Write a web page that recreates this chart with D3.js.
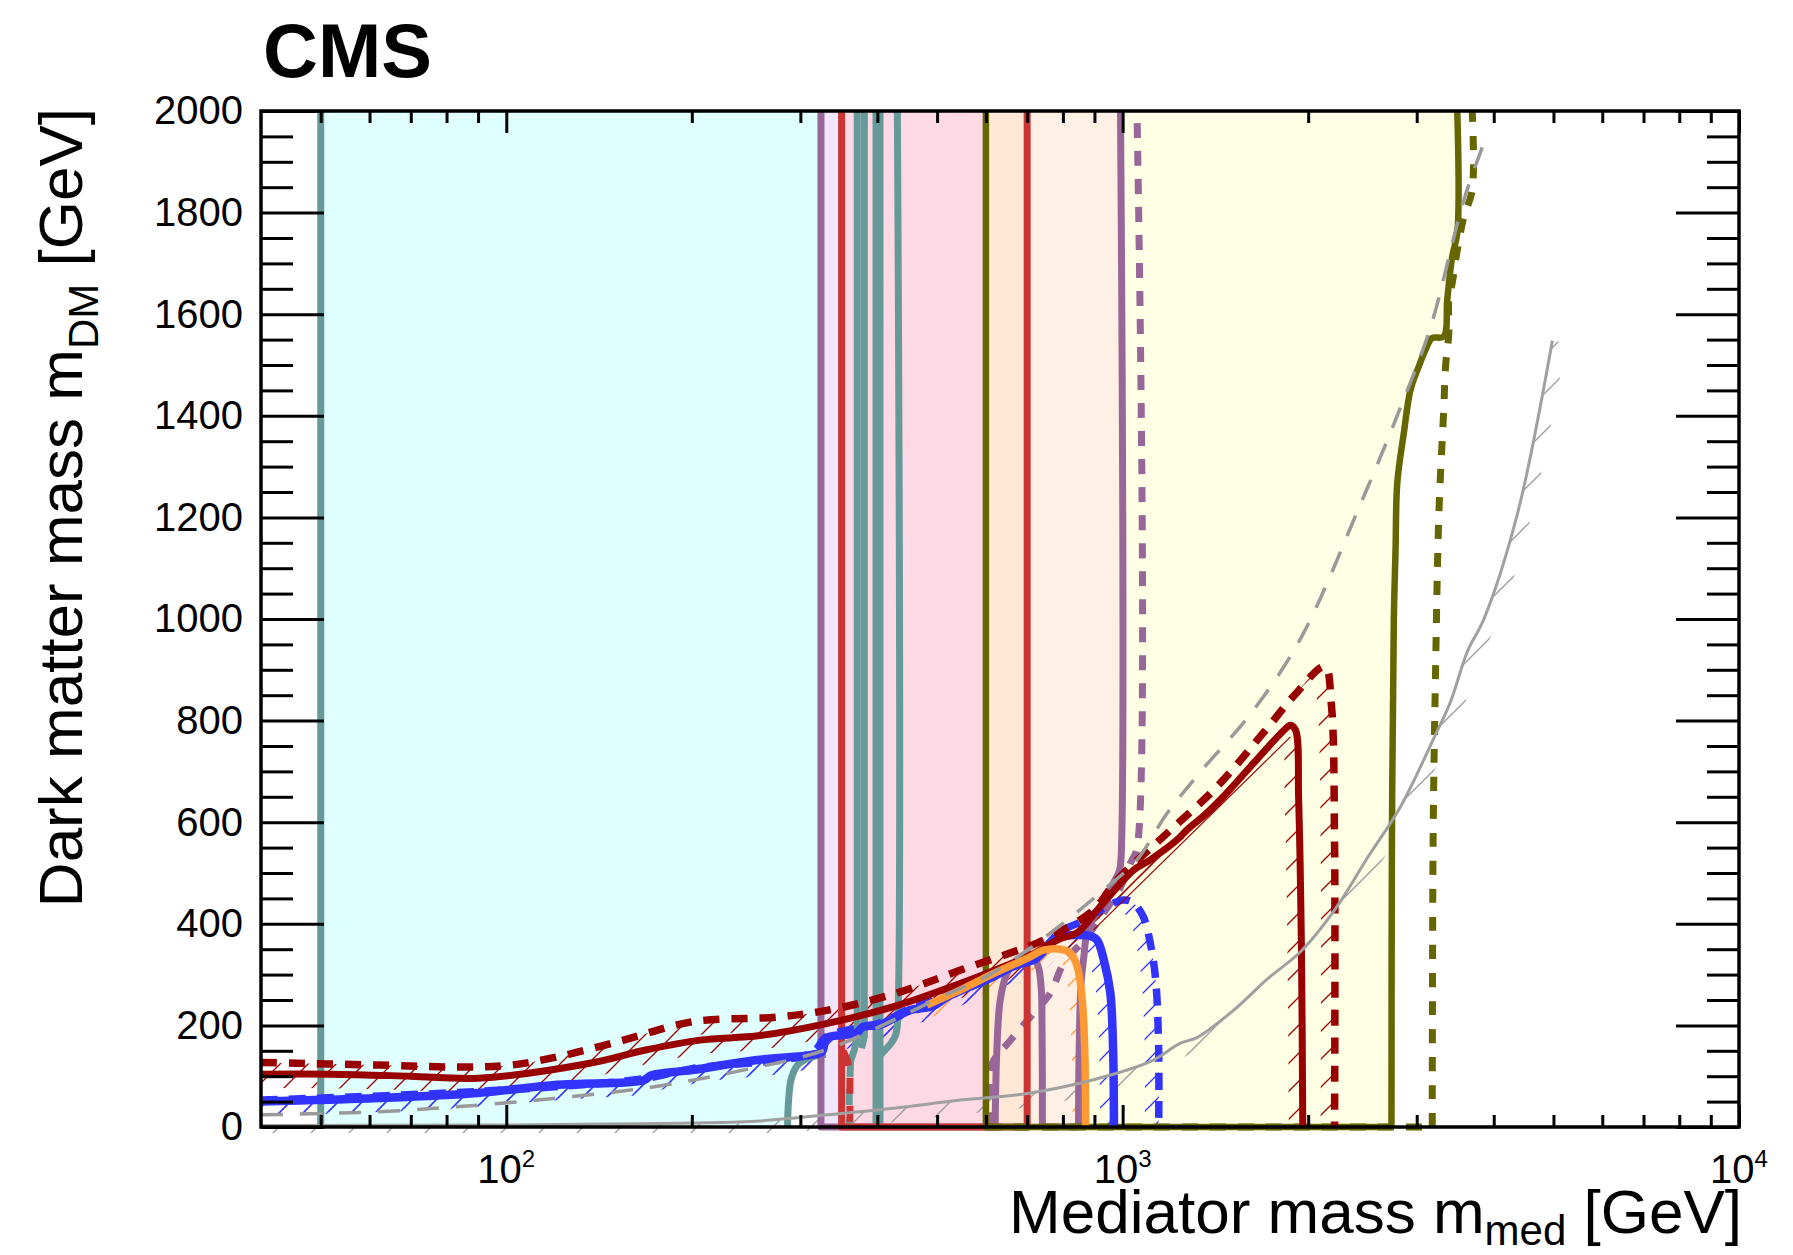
<!DOCTYPE html>
<html lang="en">
<head>
<meta charset="UTF-8">
<title>CMS dark matter summary</title>
<script src="https://d3js.org/d3.v7.min.js"></script>
<style>
  body { margin: 0; background: #fff; }
  text { font-family: "Liberation Sans", Arial, Helvetica, sans-serif; fill: #000; }
</style>
</head>
<body>
<svg id="chart" width="1793" height="1255"></svg>
<script>
// all values in GeV: [mediator mass, dark matter mass]
const yMajor = [0, 200, 400, 600, 800, 1000, 1200, 1400, 1600, 1800, 2000];
const xLabelled = [100, 1000, 10000];
const xExponents = ["2", "3", "4"];
const xMinor = [50, 60, 70, 80, 90, 200, 300, 400, 500, 600, 700, 800, 900,
                2000, 3000, 4000, 5000, 6000, 7000, 8000, 9000];

// shaded vertical bands
const tealNotch = [[286, 0], [287, 50], [290, 95], [297, 122], [307, 134], [318, 140], [330, 143]];
const lavenderBand = [324, 350];
const pinkBand = [350, 600];
const peachBand = [600, 700];

// teal
const teal50 = [[50, 0], [50, 2000]];
const tealA = [[371, 2000], [371, 178], [367, 152], [362, 130]];
const tealB = [[381, 2000], [381, 178], [377, 155]];
const tealC = [[398, 0], [398, 2000]];
const tealD = [[404, 0], [404, 2000]];
const tealE = [[431, 2000], [431, 200], [428, 180], [421, 165], [412, 152], [405, 143]];
const tealExp = [[362, 130], [360, 60], [360, 0]];

// purple
const purpleLeft = [[324, 2000], [324, 0], [621, 0]];
const purpleArch = [[621, 0], [625, 150], [633, 250], [649, 302], [674, 329],
                    [700, 335], [726, 322], [737, 280], [740, 200], [741, 0]];
const purpleBottom = [[741, 0], [848, 0]];
const purpleObsRight = [[848, 0], [850, 150], [856, 280], [866, 340], [875, 382], [895, 410],
                        [920, 434], [966, 480], [985, 500], [992, 515], [992, 2000]];
const purpleExp = [[613, 0], [613, 122], [657, 170], [717, 224], [764, 264], [802, 322], [873, 373],
                   [930, 420], [990, 470], [1030, 520], [1055, 549], [1055, 2000]];

// red
const redObs = [[350, 2000], [350, 0], [700, 0], [700, 2000]];
const redExp = [[352, 150], [358, 130], [361, 100], [361, 0]];

// olive
const oliveEdge = [[600, 2000], [600, 0], [2730, 0]];
const oliveObs = [[2730, 0], [2735, 574], [2754, 996], [2772, 1136], [2790, 1268], [2859, 1366],
                  [2931, 1451], [3023, 1497], [3100, 1530], [3179, 1553], [3319, 1556], [3362, 1628],
                  [3425, 1713], [3491, 1760], [3491, 2000]];
const oliveExpEdge = [[600, 0], [3179, 0]];
const oliveExp = [[3179, 0], [3190, 574], [3218, 890], [3259, 1207], [3320, 1417], [3341, 1497],
                  [3382, 1562], [3382, 1628], [3425, 1661], [3491, 1726], [3578, 1792], [3691, 1844],
                  [3691, 2000]];

// dark red
const darkRedObs = [[40, 104], [52, 104], [70, 100], [90, 96], [136, 125], [169, 152], [206, 171],
                    [258, 180], [332, 204], [425, 237], [546, 283], [600, 302], [700, 335], [793, 371],
                    [843, 382], [920, 434], [1042, 506], [1109, 526], [1225, 565], [1272, 585],
                    [1405, 630], [1611, 709], [1827, 781], [1872, 791], [1908, 781], [1930, 644],
                    [1950, 355], [1960, 0]];
const darkRedBandEdge = [[897, 388], [1872, 768]];
const darkRedExp = [[40, 127], [62, 122], [87, 118], [102, 122], [121, 138], [155, 171], [200, 207],
                    [279, 217], [346, 234], [436, 266], [546, 309], [726, 362], [793, 385], [897, 427],
                    [979, 486], [1180, 578], [1423, 670], [1716, 785], [1900, 850], [2127, 906],
                    [2180, 834], [2207, 563], [2207, 0]];

// blue
const blueObs = [[40, 50], [62, 57], [90, 67], [121, 83], [167, 92], [172, 102], [200, 112], [255, 132],
                 [313, 142], [325, 148], [331, 175], [352, 181], [370, 185], [379, 197], [404, 201],
                 [425, 214], [452, 230], [492, 238], [519, 256], [617, 296], [664, 316], [726, 333],
                 [764, 362], [793, 375], [850, 378], [886, 376], [909, 368], [932, 329], [955, 264],
                 [965, 152], [968, 0]];
const blueExp = [[40, 53], [90, 70], [167, 95], [200, 115], [313, 146], [331, 178], [404, 205],
                 [452, 233], [519, 259], [617, 299], [726, 338], [793, 385], [856, 404], [920, 427],
                 [1003, 447], [1041, 441], [1081, 413], [1110, 359], [1131, 291], [1144, 156], [1144, 0]];

// orange
const orangeObs = [[481, 240], [546, 270], [617, 302], [700, 332], [744, 348], [793, 350], [823, 342],
                   [844, 316], [860, 250], [868, 152], [871, 0]];

// relic density lines
const relicDashed = [[40, 24], [62, 30], [90, 43], [121, 57], [169, 77], [236, 109], [330, 152],
                     [436, 217], [507, 256], [600, 296], [700, 348], [812, 407], [932, 467],
                     [1055, 526], [1180, 617], [1337, 699], [1617, 815], [1947, 963], [2433, 1227],
                     [2825, 1417], [3160, 1575], [3578, 1825], [3900, 1953]];
const relicSolid = [[40, 3], [100, 4], [150, 6], [200, 8], [258, 12], [332, 24], [425, 37], [546, 53],
                    [700, 66], [897, 93], [1110, 129], [1241, 165], [1320, 176], [1514, 230],
                    [1716, 291], [1947, 346], [2207, 427], [2493, 529], [2825, 631], [3200, 766],
                    [3404, 837], [3625, 936], [3856, 1000], [4370, 1207], [4980, 1548]];

const svg = d3.select("#chart");
const x = d3.scaleLog().domain([40, 10000]).range([261, 1739]);
const y = d3.scaleLinear().domain([0, 2000]).range([1127, 111]);
const [x0, x1] = x.range();
const [yb, yt] = y.range();

const line = d3.line().x(d => x(d[0])).y(d => y(d[1])).curve(d3.curveCatmullRom.alpha(0.5));
const lineStraight = d3.line().x(d => x(d[0])).y(d => y(d[1]));
const pt = d => x(d[0]) + "," + y(d[1]);

const defs = svg.append("defs");
defs.append("clipPath").attr("id", "plotClip").append("rect")
    .attr("x", x0).attr("y", yt).attr("width", x1 - x0).attr("height", yb - yt + 6);

// hatch patterns
function hatchPattern(id, color, s) {
  const p = defs.append("pattern").attr("id", id)
      .attr("patternUnits", "userSpaceOnUse").attr("width", s).attr("height", s);
  p.append("path")
      .attr("d", `M0,${s}L${s},0M-2,2L2,-2M${s - 2},${s + 2}L${s + 2},${s - 2}`)
      .attr("stroke", color).attr("stroke-width", 1.3).attr("fill", "none");
}
hatchPattern("hRed", "#990000", 28);
hatchPattern("hBlue", "#3333ff", 24);
hatchPattern("hOrange", "#ff9933", 26);
hatchPattern("hGray", "#999999", 38);

// region path: straight prefix, smooth contour, straight suffix
function region(prefix, curve, suffix) {
  let d = prefix.length ? "M" + prefix.map(pt).join("L") + "L" + line(curve).slice(1) : line(curve);
  suffix.forEach(p => { d += "L" + pt(p); });
  return d + "Z";
}

const fills = svg.append("g").attr("clip-path", "url(#plotClip)");
fills.append("path").attr("d", region([[50, 2000], [50, 0]], tealNotch, [[330, 2000]])).attr("fill", "#e0ffff");
function band(b, color) {
  fills.append("rect").attr("x", x(b[0])).attr("y", yt)
      .attr("width", x(b[1]) - x(b[0])).attr("height", yb - yt).attr("fill", color);
}
band(lavenderBand, "#f0e6ff");
band(pinkBand, "#fdd9e5");
fills.append("path").attr("d", region([[600, 2000], [600, 0]], oliveObs, [])).attr("fill", "#ffffe5");
fills.append("path").attr("d", region([[700, 2000], [700, 0]], purpleObsRight, [])).attr("fill", "#fff0e6");
band(peachBand, "#ffe9d6");

// hatched bands on the excluded side
const hatches = svg.append("g").attr("clip-path", "url(#plotClip)");
let clipN = 0;
function hatch(curve, closing, pid, w) {
  const id = "hc" + (clipN++);
  defs.append("clipPath").attr("id", id).append("path").attr("d", region([], curve, closing));
  hatches.append("path").attr("d", line(curve)).attr("fill", "none")
      .attr("stroke", `url(#${pid})`).attr("stroke-width", 2 * w)
      .attr("stroke-linejoin", "round").attr("clip-path", `url(#${id})`);
}
hatch(relicSolid, [[20000, 1548], [20000, -50], [40, -50]], "hGray", 14);
hatch(blueObs, [[40, 0]], "hBlue", 14);
hatch(blueExp, [[40, 0]], "hBlue", 14);
hatch(orangeObs, [[481, 0]], "hOrange", 13);
hatch(darkRedObs, [[40, 0]], "hRed", 14);
hatch(darkRedExp, [[40, 0]], "hRed", 14);

// contour lines
const lines = svg.append("g").attr("clip-path", "url(#plotClip)");
function draw(pts, color, width, dash, straight) {
  lines.append("path").attr("d", (straight ? lineStraight : line)(pts)).attr("fill", "none")
      .attr("stroke", color).attr("stroke-width", width)
      .attr("stroke-dasharray", dash || null).attr("stroke-linejoin", "round");
}
const teal = "#669999", purple = "#996699", red = "#cc3333", olive = "#666600";
[teal50, tealA, tealB, tealC, tealD].forEach(l => draw(l, teal, 7, null, true));
draw(tealE, teal, 7);
draw(tealNotch, teal, 7);
draw(tealExp, teal, 7, "16 12", true);
draw(purpleLeft, purple, 7, null, true);
draw(purpleArch, purple, 7);
draw(purpleBottom, purple, 7, null, true);
draw(purpleObsRight, purple, 7);
draw(purpleExp, purple, 7, "15 13");
draw(redObs, red, 7, null, true);
draw(redExp, red, 7, "16 12", true);
draw(oliveExpEdge, olive, 7, "16 12", true);
draw(oliveExp, olive, 7, "14 14");
draw(oliveEdge, olive, 6.5, null, true);
draw(oliveObs, olive, 6.5);
draw(blueObs, "#3333ff", 8.5);
draw(blueExp, "#3333ff", 7.5, "17 11");
draw(darkRedBandEdge, "#990000", 1.2, null, true);
draw(darkRedObs, "#990000", 7);
draw(darkRedExp, "#990000", 7.5, "16 12");
draw(orangeObs, "#ff9933", 7.5);
draw(relicSolid, "#a0a0a0", 3);
draw(relicDashed, "#999999", 3.5, "22 17");

// axes (ticks point inwards, ROOT style)
const axes = svg.append("g");
function addAxis(gen, tx, ty) {
  const g = axes.append("g").attr("transform", `translate(${tx},${ty})`).call(gen);
  g.select(".domain").remove();
  g.selectAll(".tick line").attr("stroke", "#000").attr("stroke-width", 3);
  g.attr("font-family", null).attr("font-size", null);
  return g;
}
const yMinor = d3.range(50, 2000, 50).filter(v => v % 200);
const left = addAxis(d3.axisLeft(y).tickValues(yMajor).tickFormat(d3.format("d"))
    .tickSizeInner(-63).tickSizeOuter(0).tickPadding(18), x0, 0);
left.selectAll("text").attr("font-size", 40).attr("fill", "#000");
addAxis(d3.axisLeft(y).tickValues(yMinor).tickSize(-32).tickFormat(""), x0, 0);
addAxis(d3.axisRight(y).tickValues(yMajor).tickSize(-63).tickFormat(""), x1, 0);
addAxis(d3.axisRight(y).tickValues(yMinor).tickSize(-32).tickFormat(""), x1, 0);
addAxis(d3.axisBottom(x).tickValues(xLabelled).tickSize(-22).tickFormat(""), 0, yb);
addAxis(d3.axisBottom(x).tickValues(xMinor).tickSize(-12).tickFormat(""), 0, yb);
addAxis(d3.axisTop(x).tickValues(xLabelled).tickSize(-22).tickFormat(""), 0, yt);
addAxis(d3.axisTop(x).tickValues(xMinor).tickSize(-12).tickFormat(""), 0, yt);

axes.append("rect").attr("x", x0).attr("y", yt).attr("width", x1 - x0).attr("height", yb - yt)
    .attr("fill", "none").attr("stroke", "#000").attr("stroke-width", 3.5);

// x tick labels 10^n
xLabelled.forEach((v, i) => {
  const t = axes.append("text").attr("x", x(v)).attr("y", 1183)
      .attr("text-anchor", "middle").attr("font-size", 40);
  t.append("tspan").text("10");
  t.append("tspan").attr("dy", -16).attr("font-size", 24).text(xExponents[i]);
});

// titles
svg.append("text").attr("x", 263).attr("y", 77)
    .attr("font-size", 76).attr("font-weight", "bold").text("CMS");

const xt = svg.append("text").attr("x", 1742).attr("y", 1233)
    .attr("text-anchor", "end").attr("font-size", 62);
xt.append("tspan").text("Mediator mass m");
xt.append("tspan").attr("dy", 12).attr("font-size", 42).text("med");
xt.append("tspan").attr("dy", -12).text(" [GeV]");

const yt2 = svg.append("text").attr("transform", "translate(82,108) rotate(-90)")
    .attr("text-anchor", "end").attr("font-size", 62);
yt2.append("tspan").text("Dark matter mass m");
yt2.append("tspan").attr("dy", 16).attr("font-size", 42).text("DM");
yt2.append("tspan").attr("dy", -16).text(" [GeV]");
</script>
</body>
</html>
